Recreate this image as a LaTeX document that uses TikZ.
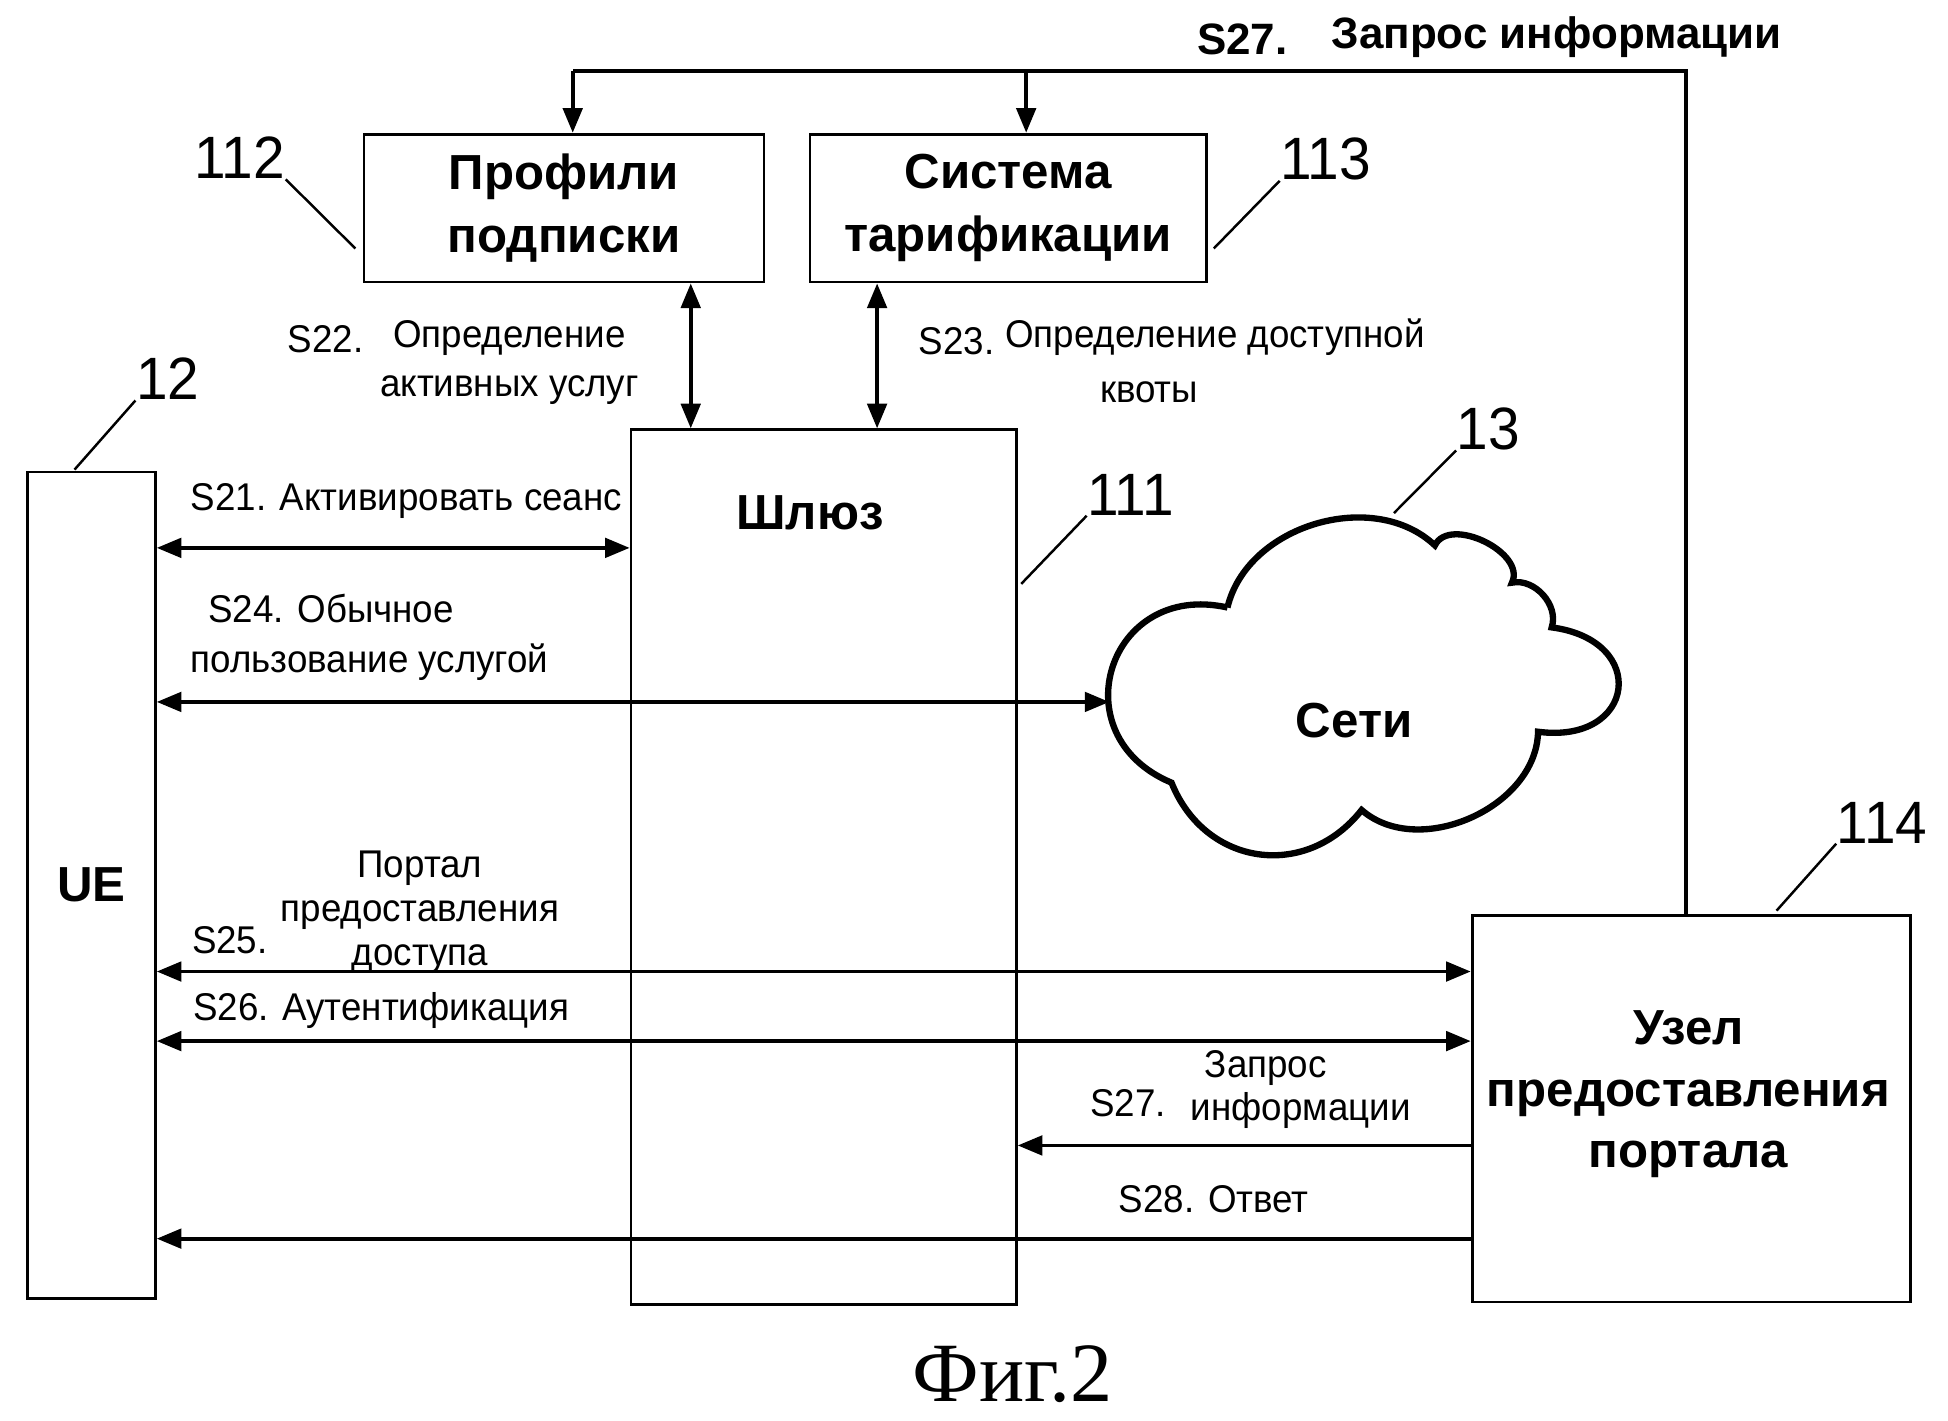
\documentclass[tikz,border=0pt]{standalone}
\usepackage{fontspec}
\setmainfont{Liberation Sans}
\newfontfamily\stepfont{Liberation Sans}[FakeStretch=0.95]
\newfontfamily\figfont{Liberation Serif}
\usetikzlibrary{arrows.meta}
\tikzset{
  box/.style={draw=black, line width=0.8pt, inner sep=0pt},
  boxtext/.style={font=\fontsize{14}{18}\selectfont\bfseries, align=center},
  steptext/.style={font=\fontsize{11}{14}\selectfont\stepfont, align=left},
  numtext/.style={font=\fontsize{17}{20}\selectfont\stepfont},
  lead/.style={line width=0.7pt},
  msg/.style={line width=1.1pt, -{Triangle[length=7pt, width=5.5pt]}},
  dmsg/.style={line width=1.1pt, {Triangle[length=7pt, width=5.5pt]}-{Triangle[length=7pt, width=5.5pt]}},
}
\begin{document}
\begin{tikzpicture}[x=0.012423cm, y=0.012423cm]
\tikzstyle{every node}+=[inner sep=0pt]
\useasboundingbox (0,0) rectangle (1568,-1143);
% blocks
\node [box, minimum width=4cm, minimum height=1.478cm, boxtext] (prof) at (454,-167.5) {Профили\\подписки};
\node [box, minimum width=3.963cm, minimum height=1.478cm, boxtext] (tarif) at (811.5,-167.5) {Система\\тарификации};
\node [box, minimum width=3.851cm, minimum height=8.746cm] (gw) at (663,-698) {};
\node [boxtext] (gwtext) at (652,-413) {Шлюз};
\node [box, minimum width=1.28cm, minimum height=8.261cm, boxtext] (ue) at (73.5,-712.5) {UE};
\node [box, minimum width=4.385cm, minimum height=3.864cm] (portal) at (1361.5,-892.5) {};
\node [boxtext, font=\fontsize{14}{17.5}\selectfont\bfseries] (portaltext) at (1359,-881) {Узел\\предоставления\\портала};
% cloud
\coordinate (ca) at (988,-489);
\coordinate (cb) at (1155,-439);
\coordinate (cc) at (1217,-469);
\coordinate (cd) at (1249,-505);
\coordinate (ce) at (1238,-589);
\coordinate (cf) at (1096,-652);
\coordinate (cg) at (943,-630);
\coordinate (cl) at (893,-565);
\draw [black, line width=1.8pt] (ca) to[bend left=60] (cb) to[bend left=90] (cc) to[bend left=60] (cd)
  to[bend left=90, looseness=2.4] (ce) to[bend left=65] (cf) to[bend left=60, looseness=1.2] (cg)
  to[bend left=85, looseness=1.7] (ca);
\node [boxtext] (cloudtext) at (1090,-580) {Сети};
% numbers and leaders
\node [numtext] (n112) at (193,-127) {112};
\node [numtext] (n113) at (1067,-128) {113};
\node [numtext] (n12) at (135,-305) {12};
\node [numtext] (n111) at (910,-398) {111};
\node [numtext] (n13) at (1198,-345) {13};
\node [numtext] (n114) at (1515,-662) {114};
\coordinate (t112) at (286,-200);
\coordinate (t113) at (977,-200);
\coordinate (t12) at (60,-378);
\coordinate (t111) at (822,-470);
\coordinate (t13) at (1122,-413);
\coordinate (t114) at (1430,-733);
\draw [lead] (n112.south east) -- (t112);
\draw [lead] (n113.south west) -- (t113);
\draw [lead] (n12.south west) -- (t12);
\draw [lead] (n111.south west) -- (t111);
\draw [lead] (n13.south west) -- (t13);
\draw [lead] (n114.south west) -- (t114);
% lanes
\coordinate (lane22) at (556,0);
\coordinate (lane23) at (706,0);
\coordinate (fbtop) at (1357,-57);
\coordinate (fba) at (461,-57);
\coordinate (fbb) at (826,-57);
\coordinate (row21) at (0,-441);
\coordinate (row24) at (0,-565);
\coordinate (row25) at (0,-782);
\coordinate (row26) at (0,-838);
\coordinate (row27) at (0,-922);
\coordinate (row28) at (0,-997);
% messages
\draw [line width=1.1pt] (portal.north -| fbtop) -- (fbtop) -- (fba);
\draw [msg] (fba) -- (prof.north -| fba);
\draw [msg] (fbb) -- (tarif.north -| fbb);
\draw [dmsg] (prof.south -| lane22) -- (gw.north -| lane22);
\draw [dmsg] (tarif.south -| lane23) -- (gw.north -| lane23);
\draw [dmsg] (ue.east |- row21) -- (gw.west |- row21);
\draw [dmsg] (ue.east |- row24) -- (cl |- row24);
\draw [dmsg] (ue.east |- row25) -- (portal.west |- row25);
\draw [dmsg] (ue.east |- row26) -- (portal.west |- row26);
\draw [msg] (portal.west |- row27) -- (gw.east |- row27);
\draw [msg] (portal.west |- row28) -- (ue.east |- row28);
% labels
\node [font=\fontsize{12.5}{15}\selectfont\bfseries] (l27top) at (1000,-32) {S27.};
\node [font=\fontsize{12.5}{15}\selectfont\bfseries] (l27toptext) at (1253,-30) {Запрос информации};
\node [steptext] (l22) at (262,-273) {S22.};
\node [steptext, align=center] (l22text) at (410,-292) {Определение\\активных услуг};
\node [steptext] (l23) at (770,-275) {S23.};
\node [steptext] (l23text) at (978,-271) {Определение доступной};
\node [steptext] (l23text2) at (925,-316) {квоты};
\node [steptext, anchor=west] (l21) at (153,-403) {S21. Активировать сеанс};
\node [steptext, anchor=west] (l24) at (153,-513) {\hspace*{5pt}S24. Обычное\\пользование услугой};
\node [steptext] (l25) at (185,-757) {S25.};
\node [steptext, align=center, font=\fontsize{11}{12.5}\selectfont\stepfont] (l25text) at (338,-734) {Портал\\предоставления\\доступа};
\node [steptext, anchor=west] (l26) at (155,-813) {S26. Аутентификация};
\node [steptext] (l27) at (908,-888) {S27.};
\node [steptext, anchor=west, font=\fontsize{11}{12}\selectfont\stepfont] (l27text) at (958,-877) {\hspace*{4pt}Запрос\\информации};
\node [steptext] (l28) at (977,-965) {S28. Ответ};
\node [font=\fontsize{24}{28}\selectfont\figfont] (fig) at (815,-1106) {Фиг.2};
\end{tikzpicture}
\end{document}
